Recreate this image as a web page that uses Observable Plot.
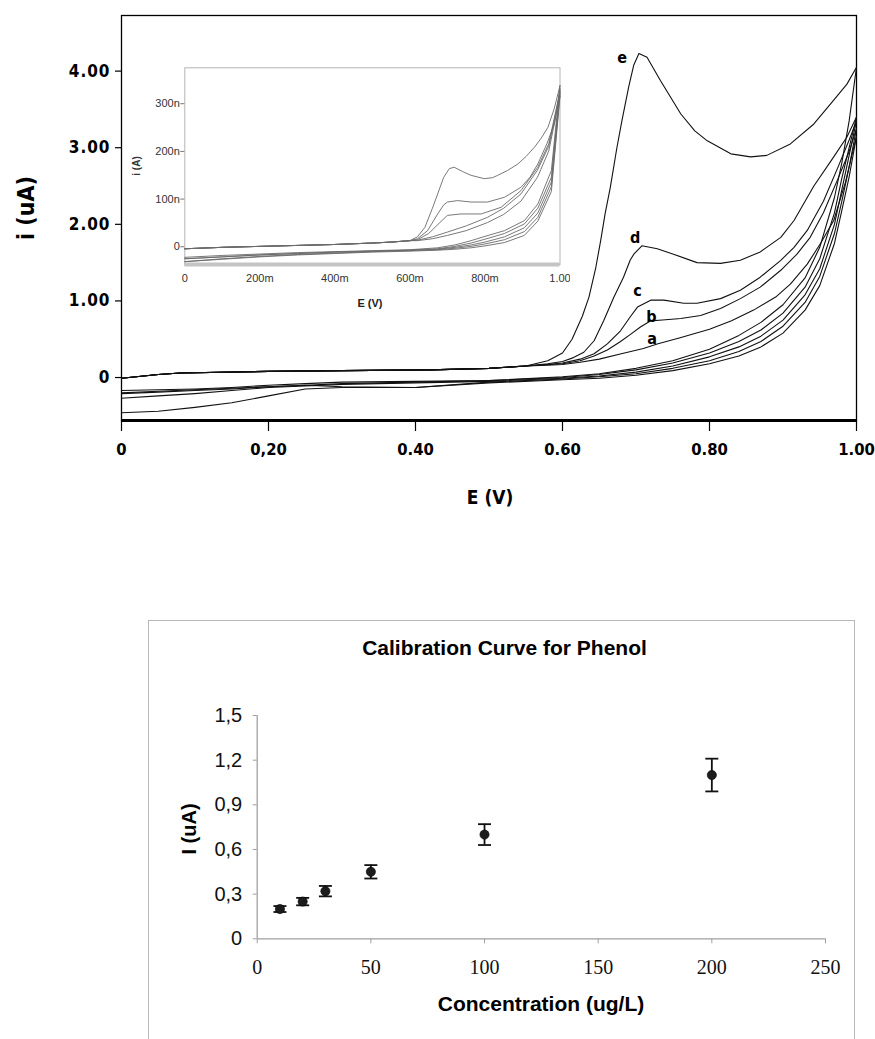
<!DOCTYPE html>
<html>
<head>
<meta charset="utf-8">
<script src="https://cdn.jsdelivr.net/npm/d3@7"></script>
<script src="https://cdn.jsdelivr.net/npm/@observablehq/plot@0.6"></script>
<style>
  body { margin: 0; background: #fff; }
  #root { position: relative; width: 875px; height: 1039px; overflow: hidden; background: #fff; }
  #root > svg { position: absolute; }
  .lbl { position: absolute; transform: translate(-50%, -50%); white-space: nowrap; line-height: 1; }
  .rot { transform: translate(-50%, -50%) rotate(-90deg); }
  .mainfont { font-family: "DejaVu Sans Condensed", "DejaVu Sans", sans-serif; font-weight: bold; color: #000; }
  .arial { font-family: "Liberation Sans", Arial, sans-serif; font-weight: bold; color: #000; }
  svg.mainplot g[aria-label="y-axis tick label"] text { letter-spacing: 1px; }
  #box { position: absolute; left: 148px; top: 620px; width: 707px; height: 460px; border: 1.5px solid #b8b8b8; box-sizing: border-box; }
</style>
</head>
<body>
<div id="root">
  <div id="box"></div>
</div>
<script>
// ---------------- Top chart: cyclic voltammograms (E in V, i in uA) ----------------
const mainXTicks = [0, 0.2, 0.4, 0.6, 0.8, 1.0];
const mainXLabels = ["0", "0,20", "0.40", "0.60", "0.80", "1.00"];
const mainYTicks = [0, 1, 2, 3, 4];
const mainYLabels = ["0", "1.00", "2.00", "3.00", "4.00"];

// forward scans share the low-potential baseline
const fwdBase = [[0,-0.01],[0.05,0.04],[0.08,0.06],[0.2,0.08],[0.3,0.09],[0.42,0.10],[0.5,0.12],[0.55,0.15]];
const fwd_e = [[0.58,0.22],[0.60,0.32],[0.613,0.50],[0.627,0.80],[0.636,1.05],[0.645,1.42],[0.652,1.79],[0.658,2.14],[0.665,2.48],[0.674,3.0],[0.681,3.36],[0.69,3.79],[0.697,4.08],[0.704,4.23],[0.715,4.18],[0.733,3.88],[0.761,3.44],[0.78,3.22],[0.797,3.09],[0.829,2.92],[0.856,2.88],[0.878,2.90],[0.91,3.05],[0.942,3.31],[0.969,3.62],[0.987,3.83],[1.0,4.05]];
const fwd_d = [[0.58,0.18],[0.60,0.21],[0.615,0.26],[0.629,0.33],[0.643,0.48],[0.656,0.74],[0.67,1.05],[0.683,1.31],[0.692,1.53],[0.697,1.61],[0.708,1.72],[0.729,1.68],[0.751,1.61],[0.783,1.50],[0.815,1.49],[0.842,1.53],[0.869,1.64],[0.897,1.83],[0.915,2.05],[0.942,2.50],[0.969,2.88],[0.987,3.14],[1.0,3.40]];
const fwd_c = [[0.58,0.17],[0.60,0.19],[0.624,0.24],[0.643,0.31],[0.661,0.44],[0.679,0.61],[0.692,0.79],[0.702,0.92],[0.72,1.01],[0.738,1.01],[0.765,0.97],[0.783,0.97],[0.815,1.03],[0.842,1.14],[0.869,1.31],[0.897,1.53],[0.915,1.70],[0.933,1.92],[0.955,2.30],[0.975,2.75],[0.99,3.10],[1.0,3.35]];
const fwd_b = [[0.58,0.17],[0.60,0.18],[0.624,0.22],[0.643,0.28],[0.661,0.36],[0.679,0.47],[0.692,0.56],[0.706,0.66],[0.72,0.74],[0.736,0.75],[0.761,0.77],[0.788,0.81],[0.815,0.90],[0.842,1.03],[0.869,1.18],[0.897,1.40],[0.919,1.61],[0.937,1.83],[0.955,2.15],[0.975,2.60],[0.99,2.95],[1.0,3.25]];
const fwd_a = [[0.58,0.16],[0.60,0.17],[0.624,0.20],[0.65,0.24],[0.68,0.31],[0.71,0.38],[0.73,0.44],[0.76,0.52],[0.80,0.63],[0.83,0.74],[0.86,0.88],[0.89,1.05],[0.91,1.22],[0.933,1.48],[0.951,1.75],[0.969,2.05],[0.985,2.55],[1.0,3.15]];

// reverse scans
const revE  = [0,0.05,0.1,0.15,0.2,0.25,0.3,0.4,0.5,0.6,0.65,0.7,0.75,0.8,0.84,0.87,0.9,0.93,0.95,0.97,0.98,0.99,1.0];
const rev_e = [-0.17,-0.16,-0.15,-0.13,-0.10,-0.08,-0.06,-0.05,-0.04,0.01,0.05,0.12,0.22,0.37,0.55,0.72,0.95,1.30,1.70,2.35,2.80,3.35,4.05];
const rev_d = [-0.21,-0.19,-0.17,-0.15,-0.12,-0.10,-0.08,-0.06,-0.04,0.00,0.04,0.10,0.19,0.32,0.47,0.62,0.84,1.18,1.55,2.15,2.60,3.00,3.40];
const rev_c = [-0.27,-0.24,-0.21,-0.17,-0.13,-0.11,-0.09,-0.07,-0.05,-0.01,0.02,0.07,0.15,0.27,0.40,0.54,0.75,1.08,1.42,2.00,2.45,2.90,3.35];
const rev_b = [-0.20,-0.18,-0.16,-0.14,-0.12,-0.10,-0.12,-0.13,-0.06,-0.02,0.01,0.05,0.12,0.22,0.34,0.47,0.67,0.98,1.32,1.88,2.30,2.75,3.25];
const rev_a = [-0.46,-0.44,-0.39,-0.33,-0.24,-0.15,-0.13,-0.13,-0.07,-0.03,-0.01,0.03,0.09,0.18,0.28,0.40,0.58,0.88,1.20,1.75,2.18,2.62,3.15];

const curveNames = ["e", "d", "c", "b", "a"];
const labelE = [0.681, 0.699, 0.702, 0.721, 0.722];
const labelI = [4.17, 1.82, 1.13, 0.79, 0.51];

// ---------------- Inset (E in V, i in nA) ----------------
const insetXTicks = [0, 0.2, 0.4, 0.6, 0.8, 1.0];
const insetXLabels = ["0", "200m", "400m", "600m", "800m", "1.00"];
const insetYTicks = [0, 100, 200, 300];
const insetYLabels = ["0", "100n", "200n", "300n"];
const insFwdBase = [[0,0],[0.1,3],[0.2,5],[0.3,7],[0.4,9],[0.5,12],[0.55,14],[0.6,17]];
const insFwd_e = [[0.62,25],[0.64,45],[0.66,85],[0.674,115],[0.69,150],[0.705,168],[0.718,171],[0.74,162],[0.763,154],[0.798,147],[0.82,149],[0.834,154],[0.86,164],[0.888,178],[0.91,194],[0.932,213],[0.95,232],[0.968,255],[0.985,295],[1.0,342]];
const insFwd_d = [[0.62,21],[0.647,38],[0.674,73],[0.69,92],[0.70,98],[0.727,101],[0.763,98],[0.807,98],[0.852,108],[0.896,129],[0.92,150],[0.941,178],[0.965,220],[0.985,262],[1.0,335]];
const insFwd_c = [[0.62,19],[0.65,32],[0.68,55],[0.70,70],[0.736,73],[0.79,73],[0.843,87],[0.896,122],[0.94,170],[0.97,220],[1.0,330]];
const insFwd_b = [[0.62,18],[0.66,25],[0.70,35],[0.75,48],[0.807,66],[0.85,85],[0.896,115],[0.94,165],[0.97,215],[1.0,325]];
const insFwd_a = [[0.62,17],[0.66,21],[0.70,28],[0.75,38],[0.807,55],[0.85,72],[0.896,100],[0.94,150],[0.97,205],[1.0,320]];
const insRevE  = [0,0.1,0.2,0.3,0.4,0.5,0.6,0.674,0.72,0.763,0.8,0.852,0.905,0.941,0.977,1.0];
const insRev_1 = [-18,-14,-11,-8,-6,-4,-2,2,8,17,26,38,59,94,164,342];
const insRev_2 = [-21,-17,-13,-10,-7,-5,-3,0,5,12,20,32,52,85,150,335];
const insRev_3 = [-27,-21,-16,-12,-9,-6,-4,-1,3,8,14,25,44,75,140,330];
const insRev_4 = [-21,-17,-13,-10,-7,-5,-3,-2,1,5,10,19,36,66,130,325];
const insRev_5 = [-27,-22,-17,-13,-10,-7,-5,-3,-1,2,6,13,28,58,120,320];

// ---------------- Bottom chart: calibration ----------------
const concentration = [10, 20, 30, 50, 100, 200];
const currentUA = [0.20, 0.25, 0.32, 0.45, 0.70, 1.10];
const errorUA = [0.02, 0.025, 0.035, 0.045, 0.07, 0.11];
const calXTicks = [0, 50, 100, 150, 200, 250];
const calYTicks = [0, 0.3, 0.6, 0.9, 1.2, 1.5];

// ---------------- build tables ----------------
function pairsToRows(pairs, id) { return pairs.map(([E, i]) => ({E, i, id})); }
function colsToRows(Es, Is, id) { return Es.map((E, k) => ({E, i: Is[k], id})); }

const mainRows = [
  ...pairsToRows(fwdBase.concat(fwd_e), "fe"),
  ...pairsToRows(fwdBase.concat(fwd_d), "fd"),
  ...pairsToRows(fwdBase.concat(fwd_c), "fc"),
  ...pairsToRows(fwdBase.concat(fwd_b), "fb"),
  ...pairsToRows(fwdBase.concat(fwd_a), "fa"),
  ...colsToRows(revE, rev_e, "re"),
  ...colsToRows(revE, rev_d, "rd"),
  ...colsToRows(revE, rev_c, "rc"),
  ...colsToRows(revE, rev_b, "rb"),
  ...colsToRows(revE, rev_a, "ra")
];
const labelRows = curveNames.map((name, k) => ({name, E: labelE[k], i: labelI[k]}));

const insetRows = [
  ...pairsToRows(insFwdBase.concat(insFwd_e), "fe"),
  ...pairsToRows(insFwdBase.concat(insFwd_d), "fd"),
  ...pairsToRows(insFwdBase.concat(insFwd_c), "fc"),
  ...pairsToRows(insFwdBase.concat(insFwd_b), "fb"),
  ...pairsToRows(insFwdBase.concat(insFwd_a), "fa"),
  ...colsToRows(insRevE, insRev_1, "r1"),
  ...colsToRows(insRevE, insRev_2, "r2"),
  ...colsToRows(insRevE, insRev_3, "r3"),
  ...colsToRows(insRevE, insRev_4, "r4"),
  ...colsToRows(insRevE, insRev_5, "r5")
];

const calib = concentration.map((c, k) => ({c, v: currentUA[k], e: errorUA[k]}));

const root = document.getElementById("root");
const fontMain = '"DejaVu Sans Condensed", "DejaVu Sans", sans-serif';
const fontArial = '"Liberation Sans", Arial, sans-serif';

// ---------------- main plot ----------------
const yMin = -0.561, yMax = 4.726;
const mainPlot = Plot.plot({
  className: "mainplot",
  width: 875, height: 520,
  marginLeft: 121, marginRight: 19, marginTop: 15, marginBottom: 100,
  style: {fontFamily: fontMain, fontSize: "17px", fontWeight: "bold", background: "transparent", color: "#000"},
  x: {domain: [0, 1], label: null},
  y: {domain: [yMin, yMax], label: null},
  marks: [
    Plot.frame({stroke: "#000", strokeWidth: 1.3}),
    Plot.ruleY([yMin], {stroke: "#000", strokeWidth: 3}),
    Plot.axisX({ticks: mainXTicks, tickFormat: d => mainXLabels[mainXTicks.indexOf(d)], tickSize: 11, tickPadding: 12, strokeWidth: 1.2, label: null, fontSize: 16.5, fontWeight: "bold", fontFamily: fontMain}),
    Plot.axisY({ticks: mainYTicks, tickFormat: d => mainYLabels[mainYTicks.indexOf(d)], tickSize: 6, tickPadding: 5, strokeWidth: 1.2, label: null, fontSize: 17, fontWeight: "bold", fontFamily: fontMain}),
    Plot.line(mainRows, {x: "E", y: "i", z: "id", stroke: "#111", strokeWidth: 1.1}),
    Plot.text(labelRows, {x: "E", y: "i", text: "name", fontSize: 16, fontWeight: "bold", fontFamily: fontMain, fill: "#000"})
  ]
});
mainPlot.style.left = "0px"; mainPlot.style.top = "0px";
root.appendChild(mainPlot);

// ---------------- inset plot ----------------
const insYMin = -33, insYMax = 379.5;
const insetPlot = Plot.plot({
  width: 450, height: 260,
  marginLeft: 64.3, marginRight: 10.5, marginTop: 12.3, marginBottom: 51,
  style: {fontFamily: fontArial, fontSize: "11px", background: "transparent", color: "#333"},
  x: {domain: [0, 1], label: null},
  y: {domain: [insYMin, insYMax], label: null},
  marks: [
    Plot.frame({stroke: "#b4b4b4", strokeWidth: 1}),
    Plot.ruleY([insYMin], {stroke: "#c4c4c4", strokeWidth: 4}),
    Plot.axisX({ticks: insetXTicks, tickFormat: d => insetXLabels[insetXTicks.indexOf(d)], tickSize: 0, tickPadding: 9.5, label: null, fontSize: 11, fill: "#333"}),
    Plot.axisY({ticks: insetYTicks, tickFormat: d => insetYLabels[insetYTicks.indexOf(d)], tickSize: 4, tickPadding: 1, dy: -2, stroke: "#777", label: null, fontSize: 11, fill: "#333"}),
    Plot.line(insetRows, {x: "E", y: "i", z: "id", stroke: "#6a6a6a", strokeWidth: 0.9})
  ]
});
insetPlot.style.left = "120px"; insetPlot.style.top = "55px";
root.appendChild(insetPlot);

// ---------------- calibration plot ----------------
const capSymbol = {draw(ctx) { ctx.moveTo(-6.5, 0); ctx.lineTo(6.5, 0); }};
const calPlot = Plot.plot({
  width: 875, height: 519,
  marginLeft: 256.7, marginRight: 50, marginTop: 195, marginBottom: 100.7,
  style: {fontFamily: fontArial, fontSize: "20px", background: "transparent", color: "#000"},
  x: {domain: [0, 250], label: null},
  y: {domain: [0, 1.5], label: null},
  marks: [
    Plot.ruleY([0], {stroke: "#a0a0a0", strokeWidth: 1.3}),
    Plot.ruleX([0], {stroke: "#a0a0a0", strokeWidth: 1.3}),
    Plot.axisX({ticks: calXTicks, tickSize: 5, tickPadding: 16, stroke: "#a0a0a0", fill: "#111", label: null, fontFamily: '"Liberation Serif", "Times New Roman", serif', fontSize: 20}),
    Plot.axisY({ticks: calYTicks, tickFormat: d => d === 0 ? "0" : d.toFixed(1).replace(".", ","), tickSize: 4, tickPadding: 11, stroke: "#a0a0a0", fill: "#111", label: null, fontFamily: fontArial, fontSize: 20}),
    Plot.ruleX(calib, {x: "c", y1: d => d.v - d.e, y2: d => d.v + d.e, stroke: "#111", strokeWidth: 1.8}),
    Plot.dot(calib, {x: "c", y: d => d.v + d.e, symbol: capSymbol, fill: "none", stroke: "#111", strokeWidth: 1.8}),
    Plot.dot(calib, {x: "c", y: d => d.v - d.e, symbol: capSymbol, fill: "none", stroke: "#111", strokeWidth: 1.8}),
    Plot.dot(calib, {x: "c", y: "v", r: 4.6, fill: "#1c1c1c", stroke: "#000", strokeWidth: 0.6})
  ]
});
calPlot.style.left = "0px"; calPlot.style.top = "520px";
root.appendChild(calPlot);

// ---------------- text labels ----------------
function addLabel(text, x, y, cls, size, rotate, color) {
  const d = document.createElement("div");
  d.className = "lbl " + cls + (rotate ? " rot" : "");
  d.textContent = text;
  d.style.left = x + "px";
  d.style.top = y + "px";
  d.style.fontSize = size + "px";
  if (color) d.style.color = color;
  root.appendChild(d);
}
addLabel("E (V)", 490, 497, "mainfont", 19, false);
addLabel("i (uA)", 26, 208, "mainfont", 23, true);
addLabel("i (A)", 137, 166, "arial", 10, true, "#333");
addLabel("E (V)", 370, 303, "arial", 11, false, "#222");
addLabel("Calibration Curve for Phenol", 504.5, 647, "arial", 21, false);
addLabel("I (uA)", 188.5, 829, "arial", 20, true);
addLabel("Concentration (ug/L)", 541, 1003, "arial", 21, false);
</script>
</body>
</html>
